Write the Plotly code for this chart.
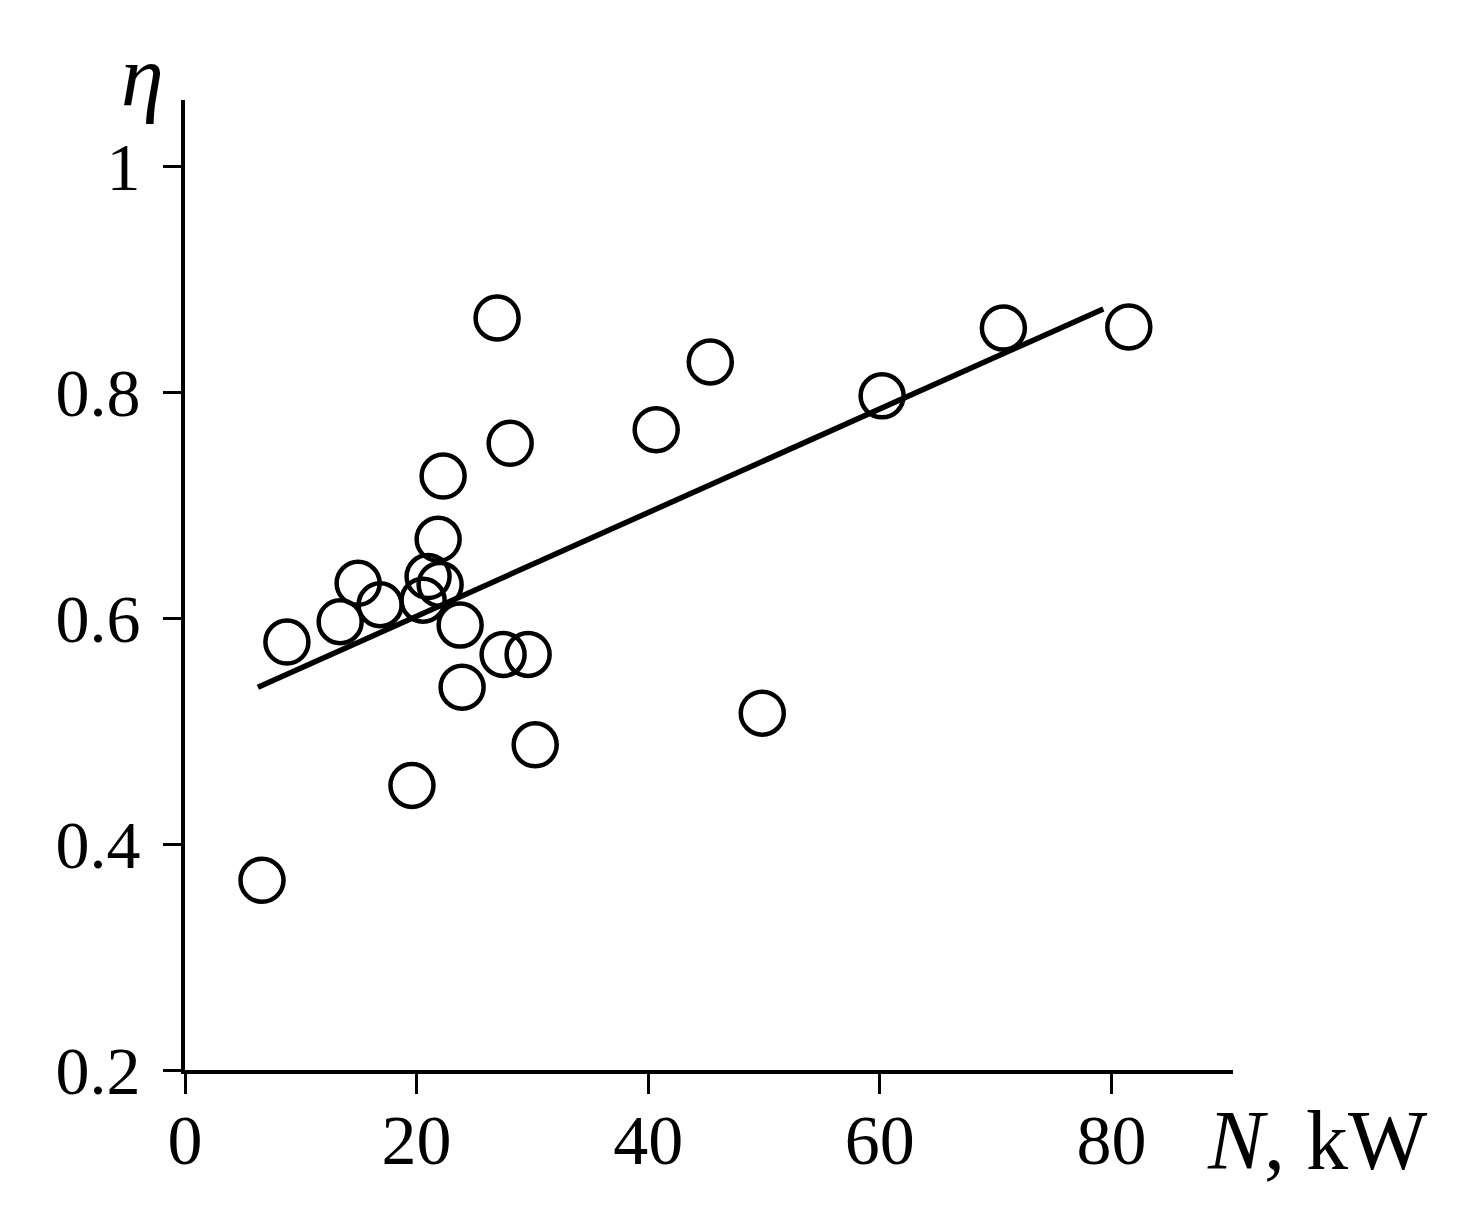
import plotly.graph_objects as go

# Measured points: power N (kW) and efficiency eta
N_kw = [6.65, 8.8, 13.4, 14.95, 16.85, 19.6, 20.56, 20.99, 22.03, 21.86, 22.29,
        23.76, 23.93, 26.95, 28.08, 27.47, 29.63, 30.24, 40.69, 45.36, 49.85,
        60.2, 70.67, 81.5]
eta = [0.368, 0.579, 0.597, 0.631, 0.612, 0.452, 0.616, 0.637, 0.630, 0.670, 0.726,
       0.594, 0.539, 0.866, 0.755, 0.568, 0.568, 0.488, 0.767, 0.827, 0.516,
       0.797, 0.857, 0.858]

# Trend line end points
trend_x = [6.3, 79.3]
trend_y = [0.539, 0.874]

x_ticks = [0, 20, 40, 60, 80]
x_ticklabels = ["0", "20", "40", "60", "80"]
y_ticks = [0.2, 0.4, 0.6, 0.8, 1.0]
y_ticklabels = ["0.2", "0.4", "0.6", "0.8", "1"]

FONT = "Liberation Serif, Times New Roman, serif"

W, H = 1470, 1222
L, R, T, B = 177, 245, 92, 160
pw, ph = W - L - R, H - T - B


def px_to_paper(px, py):
    # px, py are page pixels (page has an 8px body margin)
    return ((px - 8 - L) / pw, 1 - (py - 8 - T) / ph)


fig = go.Figure()
fig.add_trace(go.Scatter(x=trend_x, y=trend_y, mode="lines",
                         line=dict(color="black", width=5.5), showlegend=False))
fig.add_trace(go.Scatter(x=N_kw, y=eta, mode="markers",
                         marker=dict(symbol="circle-open", size=43, color="black",
                                     line=dict(width=4.5, color="black")),
                         showlegend=False))

fig.update_layout(
    width=W, height=H,
    margin=dict(l=L, r=R, t=T, b=B),
    paper_bgcolor="white", plot_bgcolor="white",
    font=dict(family=FONT, color="black"),
    xaxis=dict(range=[0, 90.5], tickvals=x_ticks, ticktext=x_ticklabels,
               showgrid=False, zeroline=False, showline=True, linecolor="black",
               linewidth=4, ticks="outside", ticklen=20, tickwidth=3,
               tickcolor="black", tickfont=dict(size=70, family=FONT, color="black"),
               ticklabelstandoff=-14),
    yaxis=dict(range=[0.2, 1.059], tickvals=y_ticks, ticktext=y_ticklabels,
               showgrid=False, zeroline=False, showline=True, linecolor="black",
               linewidth=4, ticks="outside", ticklen=18, tickwidth=3,
               tickcolor="black", tickfont=dict(size=68, family=FONT, color="black"),
               ticklabelstandoff=9),
)

ax_, ay_ = px_to_paper(1205, 1140)
fig.add_annotation(text="<i>N</i>, kW", x=ax_, y=ay_, xref="paper", yref="paper",
                   xanchor="left", yanchor="middle", showarrow=False,
                   font=dict(size=84, family=FONT, color="black"))
ex_, ey_ = px_to_paper(142, 76)
fig.add_annotation(text="<i>η</i>", x=ex_, y=ey_, xref="paper", yref="paper",
                   xanchor="center", yanchor="middle", showarrow=False,
                   font=dict(size=86, family=FONT, color="black"))

fig.write_html("out.html")
